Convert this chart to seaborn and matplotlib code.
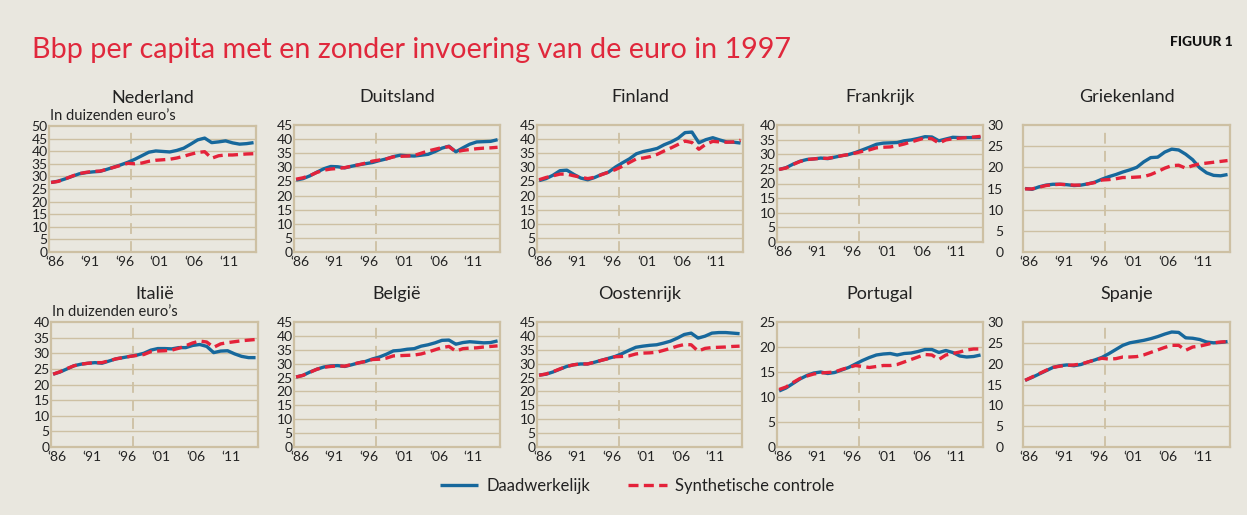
import pandas as pd
import matplotlib.pyplot as plt
import matplotlib.ticker as mticker
import seaborn as sns

BG = '#e9e7df'
GRID = '#cdc0a3'
BLUE = '#17689c'
RED = '#e4223a'
TEXT = '#222222'

YEARS = list(range(1986, 2016))
TICK_YEARS = [1986, 1991, 1996, 2001, 2006, 2011]
TICK_LABELS = ['‘86', '‘91', '‘96', '‘01', '‘06', '‘11']
EURO_YEAR = 1997

# GDP per capita in thousands of euros, 1986-2015
nl_actual = [27.6, 28.1, 29.0, 30.0, 31.0, 31.5, 31.8, 32.0, 32.8, 33.7,
             34.6, 35.6, 36.8, 38.2, 39.6, 40.1, 39.9, 39.7, 40.3, 41.2,
             42.8, 44.5, 45.2, 43.4, 43.7, 44.1, 43.3, 42.8, 43.0, 43.4]
nl_synth = [27.6, 28.0, 29.0, 30.1, 31.1, 31.6, 32.0, 32.1, 32.8, 33.6,
            34.4, 35.2, 35.0, 35.3, 36.0, 36.4, 36.6, 36.8, 37.3, 38.0,
            38.8, 39.5, 39.8, 37.2, 38.2, 38.5, 38.5, 38.7, 38.9, 39.0]
de_actual = [25.5, 26.0, 27.0, 28.3, 29.5, 30.3, 30.2, 29.8, 30.4, 30.9,
             31.3, 31.7, 32.4, 33.0, 33.8, 34.3, 34.1, 34.0, 34.3, 34.6,
             35.6, 36.8, 37.5, 35.5, 36.9, 38.2, 39.0, 39.1, 39.2, 39.8]
de_synth = [25.8, 26.3, 27.1, 28.2, 29.0, 29.4, 29.6, 29.9, 30.4, 30.9,
            31.5, 32.2, 32.6, 33.0, 33.7, 33.9, 34.0, 34.2, 35.0, 35.8,
            36.4, 37.0, 37.3, 35.5, 36.0, 36.3, 36.6, 36.8, 36.9, 37.1]
fi_actual = [25.3, 26.0, 27.2, 28.8, 29.0, 27.5, 26.2, 25.6, 26.4, 27.5,
             28.3, 30.1, 31.6, 33.0, 34.8, 35.6, 36.1, 36.7, 38.0, 39.0,
             40.3, 42.3, 42.5, 38.7, 39.8, 40.5, 39.7, 39.0, 38.9, 38.6]
fi_synth = [25.6, 26.4, 27.0, 27.6, 27.6, 27.0, 26.5, 26.0, 26.5, 27.4,
            28.3, 29.2, 30.4, 31.7, 33.0, 33.3, 33.8, 34.6, 35.8, 36.9,
            38.1, 39.3, 38.8, 36.4, 38.2, 39.2, 39.0, 38.9, 39.0, 39.6]
fr_actual = [24.8, 25.4, 26.6, 27.6, 28.2, 28.4, 28.7, 28.5, 29.0, 29.5,
             29.9, 30.6, 31.5, 32.4, 33.4, 33.8, 33.9, 34.0, 34.6, 34.9,
             35.4, 36.0, 35.9, 34.6, 35.2, 35.8, 35.7, 35.7, 35.7, 35.7]
fr_synth = [24.8, 25.3, 26.5, 27.5, 28.2, 28.4, 28.6, 28.6, 29.0, 29.5,
            29.9, 30.4, 31.0, 31.5, 32.2, 32.4, 32.5, 32.9, 33.5, 34.2,
            34.9, 35.6, 35.3, 33.8, 34.9, 35.3, 35.5, 35.7, 35.9, 36.1]
gr_actual = [15.0, 14.8, 15.4, 15.8, 16.0, 16.0, 15.9, 15.7, 15.8, 16.1,
             16.5, 17.2, 17.8, 18.3, 18.9, 19.4, 20.0, 21.3, 22.3, 22.4,
             23.6, 24.3, 24.1, 23.1, 21.8, 19.9, 18.7, 18.1, 18.0, 18.3]
gr_synth = [14.9, 14.9, 15.3, 15.7, 15.9, 16.0, 15.9, 15.8, 15.8, 16.1,
            16.4, 17.0, 17.1, 17.3, 17.6, 17.6, 17.7, 17.8, 18.3, 19.0,
            19.8, 20.4, 20.5, 19.8, 20.4, 20.8, 21.0, 21.2, 21.4, 21.6]
it_actual = [23.3, 24.0, 25.0, 26.0, 26.5, 26.8, 27.0, 26.8, 27.5, 28.2,
             28.6, 29.0, 29.4, 30.0, 31.0, 31.5, 31.5, 31.4, 31.8, 31.8,
             32.5, 32.8, 32.2, 30.2, 30.7, 30.8, 29.8, 29.0, 28.6, 28.6]
it_synth = [23.3, 24.1, 25.1, 26.0, 26.5, 26.8, 27.0, 27.0, 27.6, 28.2,
            28.6, 29.0, 29.3, 29.6, 30.5, 30.7, 30.8, 31.0, 31.6, 32.4,
            33.3, 33.9, 33.6, 31.9, 33.0, 33.4, 33.7, 34.0, 34.2, 34.4]
be_actual = [25.2, 25.8, 27.0, 28.0, 28.8, 29.2, 29.3, 29.0, 29.6, 30.3,
             30.8, 31.7, 32.4, 33.4, 34.6, 34.8, 35.2, 35.4, 36.3, 36.8,
             37.5, 38.4, 38.5, 37.0, 37.6, 37.9, 37.7, 37.5, 37.6, 38.2]
be_synth = [25.2, 25.8, 26.9, 28.0, 28.7, 29.0, 29.2, 29.1, 29.7, 30.3,
            30.8, 31.5, 31.6, 32.0, 32.8, 32.9, 33.0, 33.1, 33.5, 34.2,
            35.0, 35.8, 36.2, 34.5, 35.4, 35.6, 35.7, 36.0, 36.2, 36.4]
at_actual = [25.9, 26.2, 27.0, 28.0, 29.0, 29.6, 29.9, 29.9, 30.5, 31.2,
             31.9, 32.6, 33.6, 34.8, 35.9, 36.3, 36.6, 36.8, 37.4, 38.1,
             39.2, 40.5, 41.0, 39.2, 39.9, 41.0, 41.2, 41.2, 41.0, 40.8]
at_synth = [25.8, 26.3, 27.1, 28.1, 29.0, 29.6, 29.9, 29.9, 30.5, 31.2,
            31.8, 32.5, 32.6, 32.8, 33.5, 33.8, 33.9, 34.1, 34.8, 35.5,
            36.3, 36.9, 36.8, 34.5, 35.5, 35.8, 35.9, 36.0, 36.2, 36.3]
pt_actual = [11.2, 11.8, 12.7, 13.6, 14.3, 14.8, 15.0, 14.7, 14.9, 15.4,
             15.9, 16.6, 17.3, 17.9, 18.4, 18.6, 18.7, 18.4, 18.7, 18.8,
             19.1, 19.5, 19.5, 18.9, 19.3, 18.9, 18.2, 18.0, 18.1, 18.4]
pt_synth = [11.5, 12.0, 12.9, 13.7, 14.2, 14.6, 14.8, 14.9, 15.0, 15.5,
            15.9, 16.3, 16.1, 15.9, 16.1, 16.3, 16.3, 16.5, 17.0, 17.5,
            18.0, 18.5, 18.4, 17.5, 18.4, 18.7, 19.0, 19.4, 19.6, 19.6]
es_actual = [16.0, 16.7, 17.5, 18.3, 19.1, 19.5, 19.7, 19.5, 19.8, 20.4,
             20.9, 21.5, 22.4, 23.4, 24.4, 25.0, 25.3, 25.6, 26.0, 26.5,
             27.1, 27.6, 27.5, 26.2, 26.1, 25.8, 25.2, 25.0, 25.1, 25.3]
es_synth = [16.0, 16.8, 17.6, 18.4, 19.1, 19.4, 19.6, 19.7, 19.9, 20.4,
            20.9, 21.3, 21.1, 21.2, 21.6, 21.6, 21.7, 22.1, 22.7, 23.3,
            23.9, 24.4, 24.4, 23.2, 24.0, 24.2, 24.6, 25.0, 25.2, 25.3]

COUNTRIES = ['Nederland', 'Duitsland', 'Finland', 'Frankrijk', 'Griekenland',
             'Italië', 'België', 'Oostenrijk', 'Portugal', 'Spanje']
ACTUAL = [nl_actual, de_actual, fi_actual, fr_actual, gr_actual,
          it_actual, be_actual, at_actual, pt_actual, es_actual]
SYNTH = [nl_synth, de_synth, fi_synth, fr_synth, gr_synth,
         it_synth, be_synth, at_synth, pt_synth, es_synth]
Y_MAX = [50, 45, 45, 40, 30, 40, 45, 45, 25, 30]

# axes boxes in pixels: left, top, right, bottom
BOXES = [(49, 126, 256, 252), (294, 125, 500, 252), (537, 125, 743, 252),
         (777, 125, 983, 242), (1023, 125, 1230, 252),
         (51, 322, 258, 447), (294, 322, 500, 447), (537, 322, 742, 447),
         (777, 322, 983, 447), (1023, 322, 1230, 447)]
W, H = 1247, 515

sns.set_style('white')
plt.rcParams['font.family'] = ['Lato', 'DejaVu Sans']

fig = plt.figure(figsize=(W / 100, H / 100), dpi=100, facecolor=BG)

lines = []
for i, country in enumerate(COUNTRIES):
    l, t, r, b = BOXES[i]
    ax = fig.add_axes([l / W, 1 - b / H, (r - l) / W, (b - t) / H])
    ax.set_facecolor(BG)

    df = pd.DataFrame({'jaar': YEARS * 2,
                       'bbp': ACTUAL[i] + SYNTH[i],
                       'reeks': ['Daadwerkelijk'] * len(YEARS)
                       + ['Synthetische controle'] * len(YEARS)})
    for y in range(5, Y_MAX[i], 5):
        ax.axhline(y, color=GRID, lw=1.0, zorder=0)
    ax.axvline(EURO_YEAR + 0.5, color=GRID, lw=1.3, ls=(0, (6, 4)), zorder=1)

    sns.lineplot(data=df, x='jaar', y='bbp', hue='reeks', style='reeks',
                 palette=[BLUE, RED], dashes=[(1, 0), (3, 1.6)],
                 linewidth=2.4, ax=ax, legend=False, zorder=3)
    if i == 0:
        lines = ax.get_lines()[-2:]

    ax.set_xlim(1985.7, 2015.35)
    ax.set_ylim(0, Y_MAX[i])
    ax.set_xlabel('')
    ax.set_ylabel('')
    ax.set_xticks([y + 0.5 for y in TICK_YEARS])
    ax.set_xticklabels(TICK_LABELS)
    ax.xaxis.set_minor_locator(mticker.FixedLocator(YEARS))
    ax.set_yticks(range(0, Y_MAX[i] + 1, 5))
    pad = 14 if country in ('Griekenland', 'Spanje') else 1
    ax.tick_params(axis='y', length=0, pad=pad, labelsize=10, colors=TEXT)
    ax.tick_params(axis='x', which='major', length=0, pad=3,
                   labelsize=10, colors=TEXT)
    ax.tick_params(axis='x', which='minor', length=3, width=0.8,
                   color=GRID)
    for s in ax.spines.values():
        s.set_color(GRID)
        s.set_linewidth(1.6)

    fig.text((l + r) / 2 / W, 1 - (t - 28) / H, country, ha='center',
             va='center', fontsize=13, color=TEXT)
    if i in (0, 5):
        fig.text((l + 1) / W, 1 - (t - 10) / H, 'In duizenden euro’s',
                 ha='left', va='center', fontsize=10.5, color=TEXT)

fig.text(32 / W, 1 - 50 / H,
         'Bbp per capita met en zonder invoering van de euro in 1997',
         ha='left', va='center', fontsize=20.7, color='#e0283c')
fig.text(1233 / W, 1 - 42 / H, 'FIGUUR 1', ha='right', va='center',
         fontsize=10, fontweight='black', color='#111111')

fig.legend(lines, ['Daadwerkelijk', 'Synthetische controle'],
           loc='center', bbox_to_anchor=(637 / W, 1 - 486 / H), ncol=2,
           frameon=False, fontsize=12, handlelength=2.3, handletextpad=0.5,
           columnspacing=2.3, labelcolor=TEXT)

fig.savefig('out.png', dpi=100, facecolor=BG)
